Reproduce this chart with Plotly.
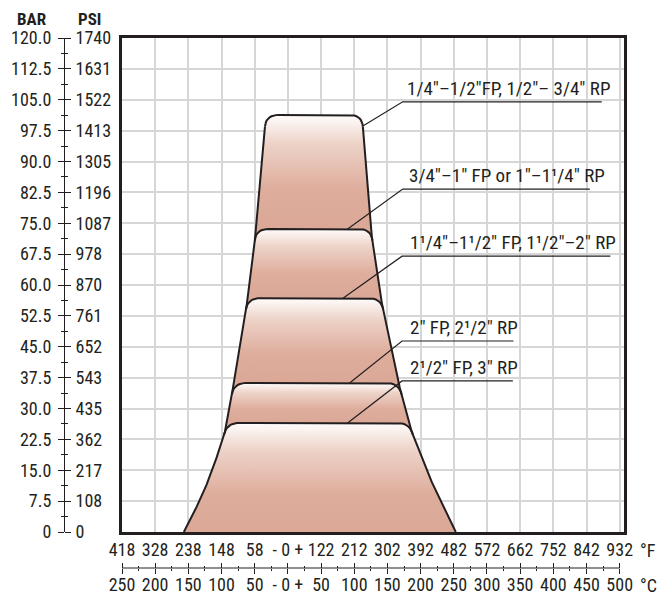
import numpy as np
import plotly.graph_objects as go

# ---------------- data ----------------
bar_tick_values = [0, 7.5, 15, 22.5, 30, 37.5, 45, 52.5, 60, 67.5, 75, 82.5, 90, 97.5, 105, 112.5, 120]
bar_tick_text = ["0", "7.5", "15.0", "22.5", "30.0", "37.5", "45.0", "52.5", "60.0",
                 "67.5", "75.0", "82.5", "90.0", "97.5", "105.0", "112.5", "120.0"]
psi_tick_text = ["0", "108", "217", "362", "435", "543", "652", "761", "870",
                 "978", "1087", "1196", "1305", "1413", "1522", "1631", "1740"]

celsius_tick_values = [-250, -200, -150, -100, -50, 0, 50, 100, 150, 200, 250, 300, 350, 400, 450, 500]
fahrenheit_tick_text = ["418", "328", "238", "148", "58", "- 0 +", "122", "212", "302",
                        "392", "482", "572", "662", "752", "842", "932"]
celsius_tick_text = ["250", "200", "150", "100", "50", "- 0 +", "50", "100", "150",
                     "200", "250", "300", "350", "400", "450", "500"]

# pressure-temperature envelopes (bar, deg C), top band first
shape_names = ['1/4"–1/2"FP, 1/2"– 3/4" RP',
               '3/4"–1" FP or 1"–1¹/4" RP',
               '1¹/4"–1¹/2" FP, 1¹/2"–2" RP',
               '2" FP, 2¹/2" RP',
               '2¹/2" FP, 3" RP']
shape_top_bar = [101.3, 73.6, 56.8, 36.2, 26.5]

left_edge_bar = [101.3, 98.4, 71.0, 55.6, 35.0, 26.5, 24.3, 18.0, 11.4, 6.1, 0.0]
left_edge_c = [-33.0, -34.6, -49.7, -61.7, -82.8, -92.0, -95.0, -107.6, -122.8, -137.6, -156.8]
right_edge_bar = [101.3, 98.4, 71.7, 55.6, 35.0, 26.5, 24.3, 12.1, 0.0]
right_edge_c = [111.5, 113.0, 126.5, 141.6, 168.7, 183.7, 186.7, 216.9, 253.0]

# label placement (leader lines)
label_line_bar = [104.5, 83.3, 67.0, 46.4, 36.7]
label_line_start_c = [173, 173, 172, 172, 172]
label_line_end_c = [473, 455, 486, 340, 339]
label_text_c = [176, 179, 181, 181, 181]
leader_target_c = [113, 90, 83, 93, 90]
leader_target_bar = [98.6, 73.6, 56.8, 36.2, 26.5]

# ---------------- style ----------------
OFF = 8                      # page body margin
W, H = 667 - OFF, 597 - OFF  # figure size so it fits the window


def px(x):
    return (x - OFF) / W


def py(y):
    return 1 - (y - OFF) / H


FONT = "Roboto Condensed, Liberation Sans Narrow, Roboto, sans-serif"
INK = "#231f20"
GRID = "#d6d6d6"
FS_TICK = 18
FS_LAB = 19
RX, RY = 19.0, 2.8      # corner rounding (deg C, bar)
EXT = 4.0               # band overlap below the next band top
GRAD = [[0.0, "#dba897"], [0.35, "#dead9c"], [0.75, "#edd3c8"], [1.0, "#fffdfc"]]

X_DOM = [px(122), px(624)]
Y_DOM = [py(532), py(38)]
X_RANGE = [-250, 506.5]
AXIS_Y = py(568)
YAXIS_X = px(64)

lb_inc = np.array(left_edge_bar[::-1]); lc_inc = np.array(left_edge_c[::-1])
rb_inc = np.array(right_edge_bar[::-1]); rc_inc = np.array(right_edge_c[::-1])


def xl(b):
    return float(np.interp(b, lb_inc, lc_inc))


def xr(b):
    return float(np.interp(b, rb_inc, rc_inc))


def quad(p0, p1, p2, n=10):
    t = np.linspace(0, 1, n)
    x = (1 - t) ** 2 * p0[0] + 2 * (1 - t) * t * p1[0] + t ** 2 * p2[0]
    y = (1 - t) ** 2 * p0[1] + 2 * (1 - t) * t * p1[1] + t ** 2 * p2[1]
    return list(x), list(y)


def top_curve(T):
    y0 = T - RY
    ax, ay = quad((xl(y0), y0), (xl(T), T), (xl(T) + RX, T))
    bx, by = quad((xr(T) - RX, T), (xr(T), T), (xr(y0), y0))
    return ax + bx, ay + by


def band(T, B):
    cx, cy = top_curve(T)
    y0 = T - RY
    rb = [b for b in right_edge_bar if B < b < y0]
    lb = [b for b in left_edge_bar if B < b < y0][::-1]
    xs = cx + [xr(b) for b in rb] + [xr(B), xl(B)] + [xl(b) for b in lb] + [cx[0]]
    ys = cy + rb + [B, B] + lb + [cy[0]]
    return xs, ys


fig = go.Figure()

# gradient bands, top first so lower bands overlay
n = len(shape_top_bar)
for i, T in enumerate(shape_top_bar):
    nxt = shape_top_bar[i + 1] if i + 1 < n else 0.0
    B = max(nxt - EXT, 0.0) if i + 1 < n else 0.0
    xs, ys = band(T, B)
    fig.add_trace(go.Scatter(
        x=xs, y=ys, mode="lines", fill="toself", line=dict(width=0),
        fillgradient=dict(type="vertical", colorscale=GRAD, start=nxt, stop=T),
        hoverinfo="skip", showlegend=False))

# outer outline
T1 = shape_top_bar[0] - RY
lx = [xl(T1)] + [c for c, b in zip(left_edge_c, left_edge_bar) if b < T1]
ly = [T1] + [b for b in left_edge_bar if b < T1]
rx = [xr(T1)] + [c for c, b in zip(right_edge_c, right_edge_bar) if b < T1]
ry = [T1] + [b for b in right_edge_bar if b < T1]
for xs, ys in ((lx, ly), (rx, ry)):
    fig.add_trace(go.Scatter(x=xs, y=ys, mode="lines", line=dict(color=INK, width=2),
                             hoverinfo="skip", showlegend=False))
# band tops
for T in shape_top_bar:
    cx, cy = top_curve(T)
    fig.add_trace(go.Scatter(x=cx, y=cy, mode="lines", line=dict(color=INK, width=2),
                             hoverinfo="skip", showlegend=False))

# leader lines + labels
annotations = []
for i, name in enumerate(shape_names):
    fig.add_trace(go.Scatter(
        x=[label_line_end_c[i], label_line_start_c[i], leader_target_c[i]],
        y=[label_line_bar[i], label_line_bar[i], leader_target_bar[i]],
        mode="lines", line=dict(color=INK, width=1.2), hoverinfo="skip", showlegend=False))
    annotations.append(dict(x=label_text_c[i], y=label_line_bar[i], xref="x", yref="y",
                            text=name, showarrow=False, xanchor="left", yanchor="bottom",
                            yshift=0, font=dict(family=FONT, size=FS_LAB, color=INK)))

# invisible anchors for auxiliary axes
fig.add_trace(go.Scatter(x=[0], y=[0], xaxis="x2", yaxis="y2", mode="markers",
                         marker=dict(opacity=0), hoverinfo="skip", showlegend=False))
fig.add_trace(go.Scatter(x=[0], y=[0], xaxis="x3", yaxis="y3", mode="markers",
                         marker=dict(opacity=0), hoverinfo="skip", showlegend=False))


def note(x, y, text, yanchor="middle", size=FS_TICK):
    return dict(x=px(x), y=py(y), xref="paper", yref="paper", text=text, showarrow=False,
                xanchor="center", yanchor=yanchor, borderpad=0,
                font=dict(family=FONT, size=size, color=INK))


annotations += [
    note(31.5, OFF, "<b>BAR</b>", yanchor="top", size=17),
    note(89, OFF, "<b>PSI</b>", yanchor="top", size=17),
    note(648, 550, "°F"),
    note(648, 585, "°C"),
]

bar_minor = [(a + b) / 2 for a, b in zip(bar_tick_values[:-1], bar_tick_values[1:])]
c_minor = [(a + b) / 2 for a, b in zip(celsius_tick_values[:-1], celsius_tick_values[1:])]
tfont = dict(family=FONT, size=FS_TICK, color=INK)

common = dict(automargin=False, tickangle=0, zeroline=False)

fig.update_layout(
    template="none",
    width=W, height=H, margin=dict(l=0, r=0, t=0, b=0, autoexpand=False),
    paper_bgcolor="white", plot_bgcolor="rgba(0,0,0,0)",
    showlegend=False, annotations=annotations,
    xaxis=dict(domain=X_DOM, range=X_RANGE, tickmode="array", tickvals=celsius_tick_values,
               showticklabels=False, ticks="", showgrid=True, gridcolor=GRID, gridwidth=2,
               showline=True, linewidth=3, linecolor=INK, mirror=True, **common),
    yaxis=dict(domain=Y_DOM, range=[0, 120], tickmode="array", tickvals=bar_tick_values,
               showticklabels=False, ticks="", showgrid=True, gridcolor=GRID, gridwidth=2,
               showline=True, linewidth=3, linecolor=INK, mirror=True, **common),
    yaxis2=dict(overlaying="y", anchor="free", position=YAXIS_X, side="left", range=[0, 120],
                tickmode="array", tickvals=bar_tick_values, ticktext=bar_tick_text,
                ticks="outside", ticklen=6, tickwidth=1, tickcolor=INK, tickfont=tfont,
                ticklabelstandoff=3,
                minor=dict(tickvals=bar_minor, ticks="outside", ticklen=3, tickcolor=INK, showgrid=False),
                showline=True, linewidth=1, linecolor=INK, showgrid=False, **common),
    yaxis3=dict(overlaying="y", anchor="free", position=YAXIS_X, side="right", range=[0, 120],
                tickmode="array", tickvals=bar_tick_values, ticktext=psi_tick_text,
                ticks="outside", ticklen=6, tickwidth=1, tickcolor=INK, tickfont=tfont,
                ticklabelstandoff=1,
                minor=dict(tickvals=bar_minor, ticks="outside", ticklen=3, tickcolor=INK, showgrid=False),
                showline=False, showgrid=False, **common),
    xaxis2=dict(overlaying="x", anchor="free", position=AXIS_Y, side="top", range=X_RANGE,
                tickmode="array", tickvals=celsius_tick_values, ticktext=fahrenheit_tick_text,
                ticks="outside", ticklen=5, tickwidth=1, tickcolor=INK, tickfont=tfont,
                ticklabelstandoff=0,
                minor=dict(tickvals=c_minor, ticks="outside", ticklen=2, tickcolor=INK, showgrid=False),
                showline=False, showgrid=False, **common),
    xaxis3=dict(overlaying="x", anchor="free", position=AXIS_Y, side="bottom", range=X_RANGE,
                tickmode="array", tickvals=celsius_tick_values, ticktext=celsius_tick_text,
                ticks="outside", ticklen=5, tickwidth=1, tickcolor=INK, tickfont=tfont,
                ticklabelstandoff=-5,
                minor=dict(tickvals=c_minor, ticks="outside", ticklen=2, tickcolor=INK, showgrid=False),
                showline=False, showgrid=False, **common),
    shapes=[dict(type="line", xref="x", yref="paper", x0=celsius_tick_values[0],
                 x1=celsius_tick_values[-1], y0=AXIS_Y, y1=AXIS_Y, line=dict(color=INK, width=1))],
)

fig.write_html("out.html", config={"displayModeBar": False})
